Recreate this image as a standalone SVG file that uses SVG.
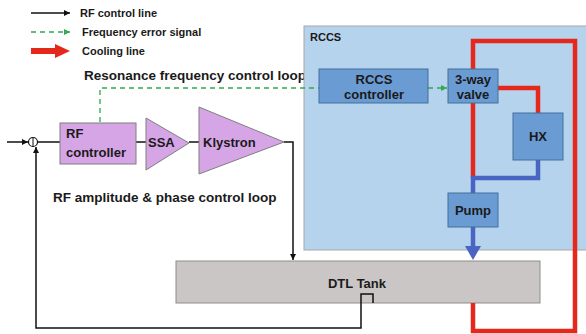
<svg xmlns="http://www.w3.org/2000/svg" width="586" height="334" viewBox="0 0 586 334">
  <style>
    text { font-family: "Liberation Sans", Arial, sans-serif; font-weight: bold; fill: #1a1a1a; }
    .lg { font-size: 11px; }
    .bx { font-size: 13px; }
    .lbl { font-size: 13.5px; }
    .blk { fill: #6b9bd3; stroke: #41719c; stroke-width: 1; }
    .rf { fill: #d6a5e6; stroke: #7f7f7f; stroke-width: 1; }
    .wire { fill: none; stroke: #111; stroke-width: 1.5; }
    .sig { fill: none; stroke: #2faa4f; stroke-width: 1.3; stroke-dasharray: 5 4; }
    .hot { fill: none; stroke: #e5281c; stroke-width: 4.5; }
    .cold { fill: none; stroke: #4a64c4; stroke-width: 4.5; }
  </style>
  <defs>
    <marker id="ah" markerWidth="8" markerHeight="8" refX="6" refY="4" orient="auto" markerUnits="userSpaceOnUse">
      <path d="M0,1 L6,4 L0,7 Z" fill="#111"/>
    </marker>
    <marker id="gh" markerWidth="8" markerHeight="8" refX="6" refY="4" orient="auto" markerUnits="userSpaceOnUse">
      <path d="M0,1 L6,4 L0,7 Z" fill="#2faa4f"/>
    </marker>
  </defs>

  <rect width="586" height="334" fill="#ffffff"/>

  <!-- legend -->
  <g id="legend">
    <line x1="31" y1="13" x2="70" y2="13" class="wire" marker-end="url(#ah)"/>
    <text x="80" y="17" class="lg">RF control line</text>
    <line x1="31" y1="32" x2="70" y2="32" class="sig" marker-end="url(#gh)"/>
    <text x="82" y="36" class="lg">Frequency error signal</text>
    <rect x="31" y="48" width="25" height="6" fill="#e5281c"/>
    <path d="M55,44 L70,51 L55,58 Z" fill="#e5281c"/>
    <text x="82" y="55" class="lg">Cooling line</text>
  </g>

  <text x="84" y="80" class="lbl">Resonance frequency control loop</text>
  <text x="53" y="202" class="lbl">RF amplitude &amp; phase control loop</text>

  <!-- RCCS enclosure -->
  <g id="rccs">
    <rect x="304" y="26" width="290" height="224" fill="#b6d3ed" stroke="#a8a8a8" stroke-width="1"/>
    <text x="310" y="41" class="lg">RCCS</text>
  </g>

  <!-- DTL tank -->
  <g id="dtl-tank">
    <rect x="176" y="261" width="364" height="42" fill="#cac6c5" stroke="#8d8d8d" stroke-width="1"/>
    <text x="357" y="288" class="bx" text-anchor="middle">DTL Tank</text>
  </g>

  <!-- connectors -->
  <g id="connectors">
    <!-- cooling loop -->
    <path class="hot" d="M473,69 V41 H575 V331 H473 V303"/>
    <path class="hot" d="M473,103 V178"/>
    <path class="hot" d="M498,88 H538 V113"/>
    <path class="cold" d="M538,160 V178 H473 V193"/>
    <path class="cold" d="M473,227 V248"/>
    <path d="M465,246 L481,246 L473,260 Z" fill="#4a64c4"/>

    <!-- frequency error signal -->
    <path class="sig" d="M100,122 V88 H319"/>
    <line x1="428" y1="88" x2="447" y2="88" class="sig" marker-end="url(#gh)"/>

    <!-- RF chain -->
    <line x1="7" y1="142" x2="28" y2="142" class="wire" marker-end="url(#ah)"/>
    <line x1="38" y1="142" x2="60" y2="142" class="wire"/>
    <line x1="136" y1="142" x2="146" y2="142" class="wire"/>
    <line x1="189" y1="142" x2="199" y2="142" class="wire"/>
    <path class="wire" d="M284,142 H293 V260" marker-end="url(#ah)"/>
    <!-- feedback pickup -->
    <path class="wire" d="M373,303 V294 H361 V328 H36 V147" marker-end="url(#ah)"/>
  </g>

  <!-- summing junction -->
  <g id="sum">
    <circle cx="33" cy="142" r="4.5" fill="#fff" stroke="#111" stroke-width="1.2"/>
    <line x1="33" y1="138" x2="33" y2="146.5" stroke="#111" stroke-width="1"/>
  </g>

  <g id="rf-controller">
    <rect x="60" y="123" width="76" height="41" class="rf"/>
    <text x="66" y="138" class="bx">RF</text>
    <text x="66" y="157" class="bx">controller</text>
  </g>

  <g id="ssa">
    <path d="M146,118 L146,170 L189,143 Z" class="rf"/>
    <text x="148" y="147" class="bx">SSA</text>
  </g>

  <g id="klystron">
    <path d="M199,107 L199,174 L284,142 Z" class="rf"/>
    <text x="203" y="147" class="bx">Klystron</text>
  </g>

  <g id="rccs-controller">
    <rect x="319" y="69" width="109" height="34" class="blk"/>
    <text x="374" y="84" class="bx" text-anchor="middle">RCCS</text>
    <text x="374" y="99" class="bx" text-anchor="middle">controller</text>
  </g>

  <g id="valve">
    <rect x="448" y="69" width="50" height="34" class="blk"/>
    <text x="473" y="84" class="bx" text-anchor="middle">3-way</text>
    <text x="473" y="99" class="bx" text-anchor="middle">valve</text>
  </g>

  <g id="hx">
    <rect x="513" y="113" width="50" height="47" class="blk"/>
    <text x="538" y="141" class="bx" text-anchor="middle">HX</text>
  </g>

  <g id="pump">
    <rect x="448" y="193" width="50" height="34" class="blk"/>
    <text x="473" y="215" class="bx" text-anchor="middle">Pump</text>
  </g>
</svg>
